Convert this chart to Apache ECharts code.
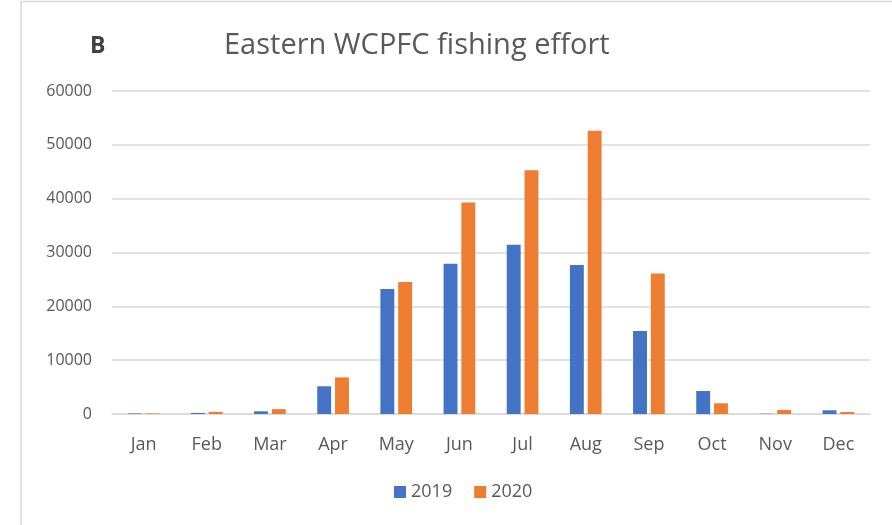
<!DOCTYPE html>
<html><head><meta charset="utf-8">
<script src="https://cdn.jsdelivr.net/npm/echarts@6/dist/echarts.min.js"></script>
<style>html,body{margin:0;padding:0;background:#fff}#c{width:892px;height:525px}</style>
</head><body><div id="c"></div>
<script>
const months = ['Jan','Feb','Mar','Apr','May','Jun','Jul','Aug','Sep','Oct','Nov','Dec'];
const effort2019 = [100, 200, 500, 5150, 23200, 27900, 31450, 27680, 15400, 4270, 50, 690];
const effort2020 = [100, 400, 900, 6800, 24500, 39300, 45270, 52630, 26100, 1990, 740, 370];
const yTicks = {min: 0, max: 60000, interval: 10000};

const chart = echarts.init(document.getElementById('c'));
const font = 'Open Sans, Noto Sans, sans-serif';
chart.setOption({
  animation: false,
  backgroundColor: '#fff',
  graphic: [{
    type: 'rect', shape: {x: 21, y: 1.5, width: 900, height: 600},
    style: {fill: 'none', stroke: '#d9d9d9', lineWidth: 1.5}, silent: true
  }],
  title: [
    {text: 'B', left: 85, top: 30, textStyle: {fontFamily: font, fontSize: 23, fontWeight: 'bold', color: '#404040'}},
    {text: 'Eastern WCPFC fishing effort', left: 219, top: 26, textStyle: {fontFamily: font, fontSize: 29, fontWeight: 'normal', color: '#595959'}}
  ],
  legend: {
    bottom: 19, left: 389, itemWidth: 12, itemHeight: 12, itemGap: 22,
    icon: 'rect',
    textStyle: {fontFamily: font, fontSize: 18, color: '#595959'},
    data: ['2019', '2020']
  },
  grid: {left: 112, right: 22, top: 91, bottom: 111},
  xAxis: {
    type: 'category', data: months,
    axisLine: {lineStyle: {color: '#d9d9d9', width: 1.5}},
    axisTick: {show: false},
    axisLabel: {fontFamily: font, fontSize: 18, color: '#595959', margin: 22}
  },
  yAxis: {
    type: 'value', min: yTicks.min, max: yTicks.max, interval: yTicks.interval,
    axisLine: {show: false}, axisTick: {show: false},
    splitLine: {lineStyle: {color: '#d9d9d9', width: 1.5}},
    axisLabel: {fontFamily: font, fontSize: 16, color: '#595959', margin: 20, formatter: v => String(v)}
  },
  series: [
    {name: '2019', type: 'bar', data: effort2019, barWidth: '22%', barGap: '28%', itemStyle: {color: '#4472c4'}},
    {name: '2020', type: 'bar', data: effort2020, barWidth: '22%', barGap: '28%', itemStyle: {color: '#ed7d31'}}
  ]
});
</script></body></html>
